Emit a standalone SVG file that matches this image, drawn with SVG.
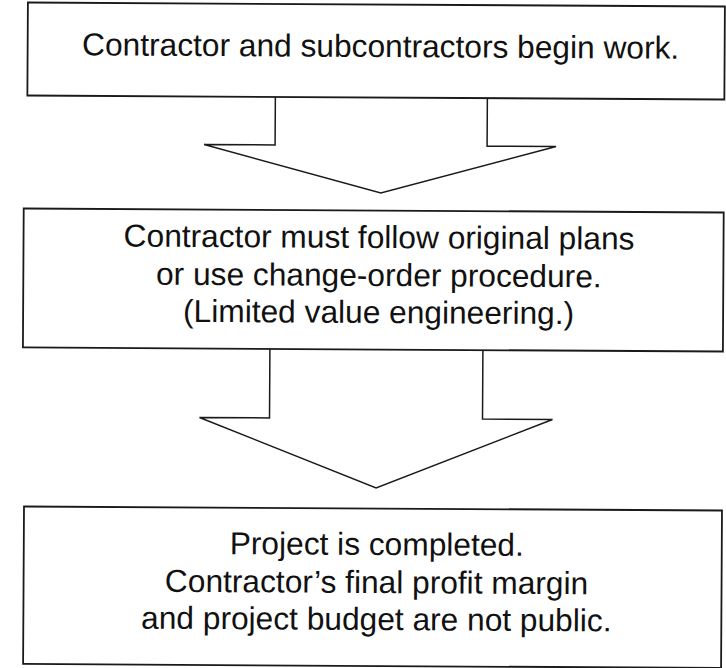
<svg xmlns="http://www.w3.org/2000/svg" width="726" height="668" viewBox="0 0 726 668">
  <style>
    .box { fill: #ffffff; stroke: #1a1a1a; stroke-width: 1.8; }
    .arrow { fill: #ffffff; stroke: #1a1a1a; stroke-width: 1.5; stroke-linejoin: miter; }
    .label { font-family: "Liberation Sans", Arial, Helvetica, sans-serif; font-size: 31.7px; fill: #111111; text-anchor: middle; }
  </style>
  <rect width="726" height="668" fill="#ffffff"/>
  <!-- the whole page sits at a slight tilt -->
  <g transform="rotate(0.33 375 334)">
    <!-- block arrows between the steps (open at the top, joining the box above) -->
    <g id="connectors">
      <polyline class="arrow" points="274,97.5 274,145.5 203,145.5 380,193 555,145.5 486,145.5 486,97.5"/>
      <polyline class="arrow" points="270,349.5 270,418.5 200,418.5 377,488 553,418.5 483,418.5 483,349.5"/>
    </g>

    <g id="step-begin-work">
      <rect class="box" x="26" y="4.5" width="697" height="93"/>
      <text class="label" x="379" y="57">Contractor and subcontractors begin work.</text>
    </g>

    <g id="step-follow-plans">
      <rect class="box" x="23" y="210.5" width="700" height="139"/>
      <text class="label" x="378.5" y="248">Contractor must follow original plans</text>
      <text class="label" x="378.5" y="286">or use change-order procedure.</text>
      <text class="label" x="378.5" y="323">(Limited value engineering.)</text>
    </g>

    <g id="step-completed">
      <rect class="box" x="25" y="508.5" width="698" height="157.5"/>
      <text class="label" x="378" y="555">Project is completed.</text>
      <text class="label" x="378" y="593">Contractor’s final profit margin</text>
      <text class="label" x="378" y="630">and project budget are not public.</text>
    </g>
  </g>
</svg>
